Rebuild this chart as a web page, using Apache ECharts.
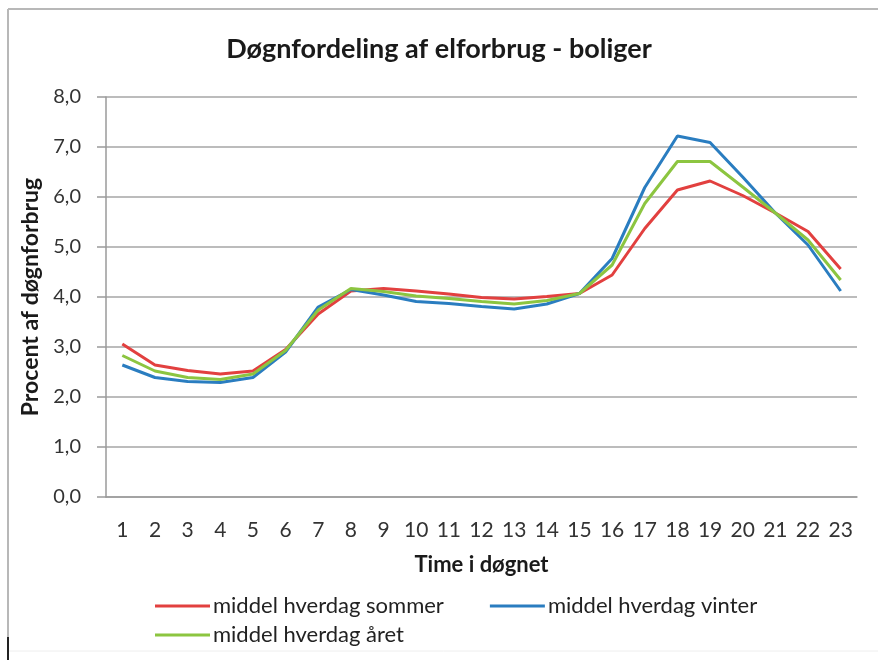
<!DOCTYPE html>
<html>
<head>
<meta charset="utf-8">
<script src="https://cdn.jsdelivr.net/npm/echarts@6/dist/echarts.min.js"></script>
<style>
  html, body { margin: 0; padding: 0; background: #fff; }
  #chart { width: 878px; height: 660px; }
</style>
</head>
<body>
<div id="chart"></div>
<script>
const hours = ["1", "2", "3", "4", "5", "6", "7", "8", "9", "10", "11", "12",
  "13", "14", "15", "16", "17", "18", "19", "20", "21", "22", "23"];

const sommer = [3.06, 2.64, 2.53, 2.46, 2.52, 2.95, 3.66, 4.12, 4.17, 4.12, 4.06, 3.99,
  3.96, 4.01, 4.07, 4.44, 5.37, 6.14, 6.32, 6.03, 5.68, 5.31, 4.56];
const vinter = [2.64, 2.39, 2.31, 2.29, 2.39, 2.9, 3.8, 4.15, 4.04, 3.91, 3.87, 3.81,
  3.76, 3.86, 4.07, 4.77, 6.19, 7.22, 7.09, 6.4, 5.68, 5.04, 4.12];
const aaret = [2.83, 2.52, 2.39, 2.35, 2.46, 2.93, 3.74, 4.17, 4.11, 4.02, 3.97, 3.91,
  3.86, 3.93, 4.07, 4.64, 5.87, 6.71, 6.71, 6.2, 5.68, 5.14, 4.34];

const names = ["middel hverdag sommer", "middel hverdag vinter", "middel hverdag året"];
const colors = ["#e2403f", "#2a7dc0", "#8cc540"];

const font = "Lato, 'Open Sans', sans-serif";
const chart = echarts.init(document.getElementById("chart"));

function line(name, data, color) {
  return {
    name,
    type: "line",
    data,
    symbol: "none",
    lineStyle: { color, width: 3 },
    itemStyle: { color },
  };
}

const legendText = { fontSize: 22, color: "#222", padding: [0, 0, 0, -2] };

chart.setOption({
  animation: false,
  textStyle: { fontFamily: font },
  title: {
    text: "Døgnfordeling af elforbrug - boliger",
    left: "center",
    top: 31,
    textStyle: { fontSize: 27, fontWeight: "bold", color: "#1a1a1a", fontFamily: font },
  },
  graphic: [
    { type: "line", shape: { x1: 8, y1: 9, x2: 878, y2: 9 }, style: { stroke: "#b8b8b8", lineWidth: 2 } },
    { type: "line", shape: { x1: 8, y1: 9, x2: 8, y2: 637 }, style: { stroke: "#b8b8b8", lineWidth: 2 } },
    { type: "line", shape: { x1: 8, y1: 637, x2: 8, y2: 660 }, style: { stroke: "#222", lineWidth: 2 } },
    { type: "line", shape: { x1: 9, y1: 651, x2: 878, y2: 651 }, style: { stroke: "#eeeeee", lineWidth: 1 } },
  ],
  grid: { left: 106, right: 21, top: 97, bottom: 163 },
  legend: [
    {
      data: names.slice(0, 2),
      left: 150,
      top: 590,
      icon: "rect",
      itemWidth: 55,
      itemHeight: 3,
      itemGap: 46,
      textStyle: legendText,
    },
    {
      data: names.slice(2),
      left: 150,
      top: 619,
      icon: "rect",
      itemWidth: 55,
      itemHeight: 3,
      textStyle: legendText,
    },
  ],
  xAxis: {
    type: "category",
    data: hours,
    boundaryGap: true,
    name: "Time i døgnet",
    nameLocation: "middle",
    nameGap: 57,
    nameTextStyle: { fontSize: 22, fontWeight: "bold", color: "#1a1a1a" },
    axisLine: { lineStyle: { color: "#9a9a9a", width: 1.5 } },
    axisTick: { length: 6, lineStyle: { color: "#9a9a9a", width: 1.5 } },
    axisLabel: { fontSize: 21, color: "#333", margin: 23 },
  },
  yAxis: {
    type: "value",
    min: 0,
    max: 8,
    interval: 1,
    name: "Procent af døgnforbrug",
    nameLocation: "middle",
    nameGap: 60,
    nameTextStyle: { fontSize: 23, fontWeight: "bold", color: "#1a1a1a" },
    axisLine: { show: true, lineStyle: { color: "#9a9a9a", width: 1.5 } },
    axisTick: { show: true, length: 9, lineStyle: { color: "#9a9a9a", width: 1.5 } },
    axisLabel: {
      fontSize: 20,
      color: "#333",
      margin: 25,
      formatter: (v) => v.toFixed(1).replace(".", ","),
    },
    splitLine: { lineStyle: { color: "#a6a6a6", width: 1.5 } },
  },
  series: [
    line(names[0], sommer, colors[0]),
    line(names[1], vinter, colors[1]),
    line(names[2], aaret, colors[2]),
  ],
});
</script>
</body>
</html>
